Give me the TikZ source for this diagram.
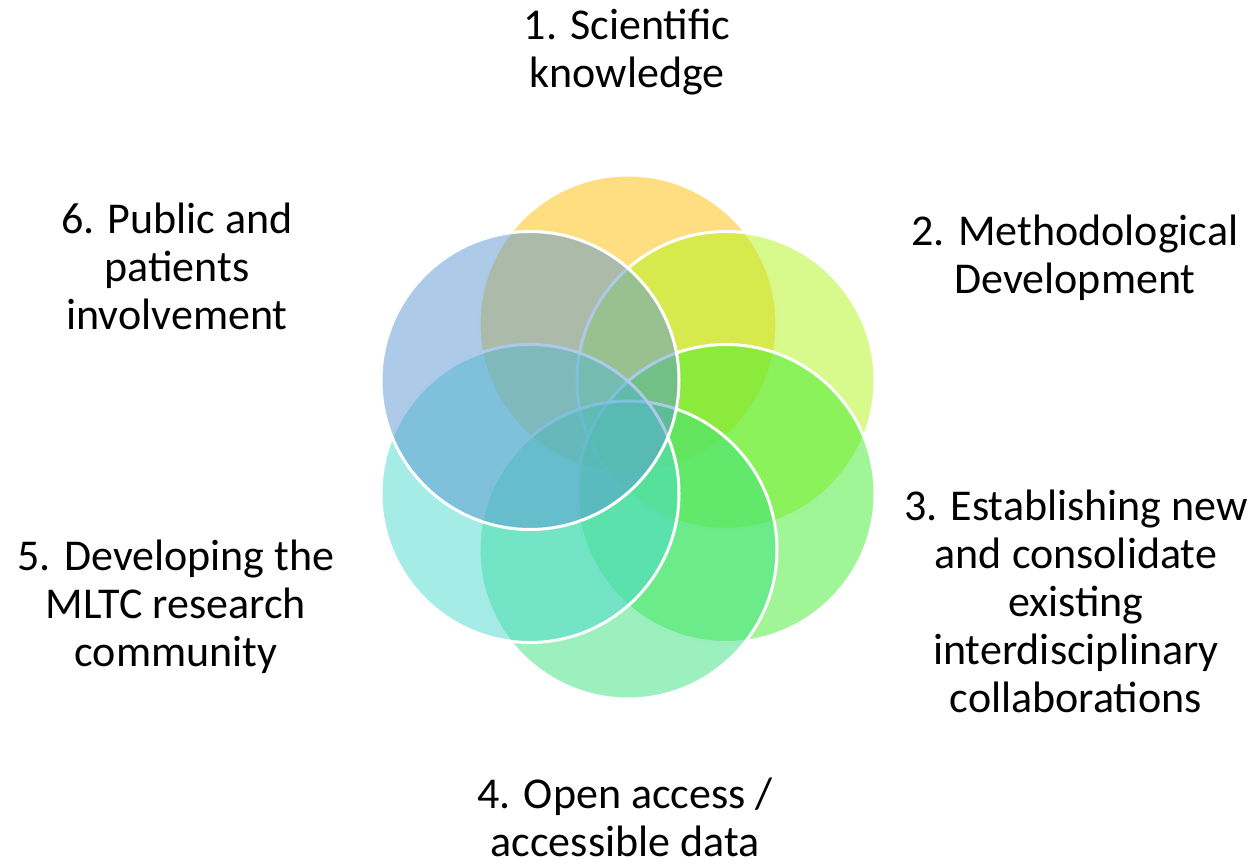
\documentclass[tikz,border=0pt]{standalone}
\usepackage{fontspec}
\setmainfont{Carlito}

\definecolor{knowc}{RGB}{255,189,5}
\definecolor{methc}{RGB}{177,245,25}
\definecolor{collc}{RGB}{65,235,45}
\definecolor{datac}{RGB}{57,225,125}
\definecolor{commc}{RGB}{75,217,205}
\definecolor{ppic}{RGB}{91,151,211}

\begin{document}
\begin{tikzpicture}[x=0.5pt, y=-0.5pt,
  petal/.style={draw=white, line width=1.5pt, circle, minimum size=149pt, inner sep=0pt, fill opacity=0.5},
  goal/.style={align=center, inner sep=0pt, font=\fontsize{22}{24}\selectfont}]
  \useasboundingbox (0,0) rectangle (1255,865);

  \node[petal, fill=knowc] (p1) at (628,324) {};
  \node[petal, fill=methc] (p2) at (726,380.5) {};
  \node[petal, fill=collc] (p3) at (726,493.5) {};
  \node[petal, fill=datac] (p4) at (628,550) {};
  \node[petal, fill=commc] (p5) at (530,493.5) {};
  \node[petal, fill=ppic] (p6) at (530,380.5) {};

  \node[goal] (g1) at (627,52) {1. Scientific\\knowledge};
  \node[goal] (g2) at (1075,258) {2. Methodological\\Development};
  \node[goal] (g3) at (1076,601) {3. Establishing new\\and consolidate\\existing\\interdisciplinary\\collaborations};
  \node[goal] (g4) at (625,817) {4. Open access /\\accessible data};
  \node[goal] (g5) at (176,607) {5. Developing the\\MLTC research\\community};
  \node[goal] (g6) at (177,266) {6. Public and\\patients\\involvement};
\end{tikzpicture}
\end{document}
